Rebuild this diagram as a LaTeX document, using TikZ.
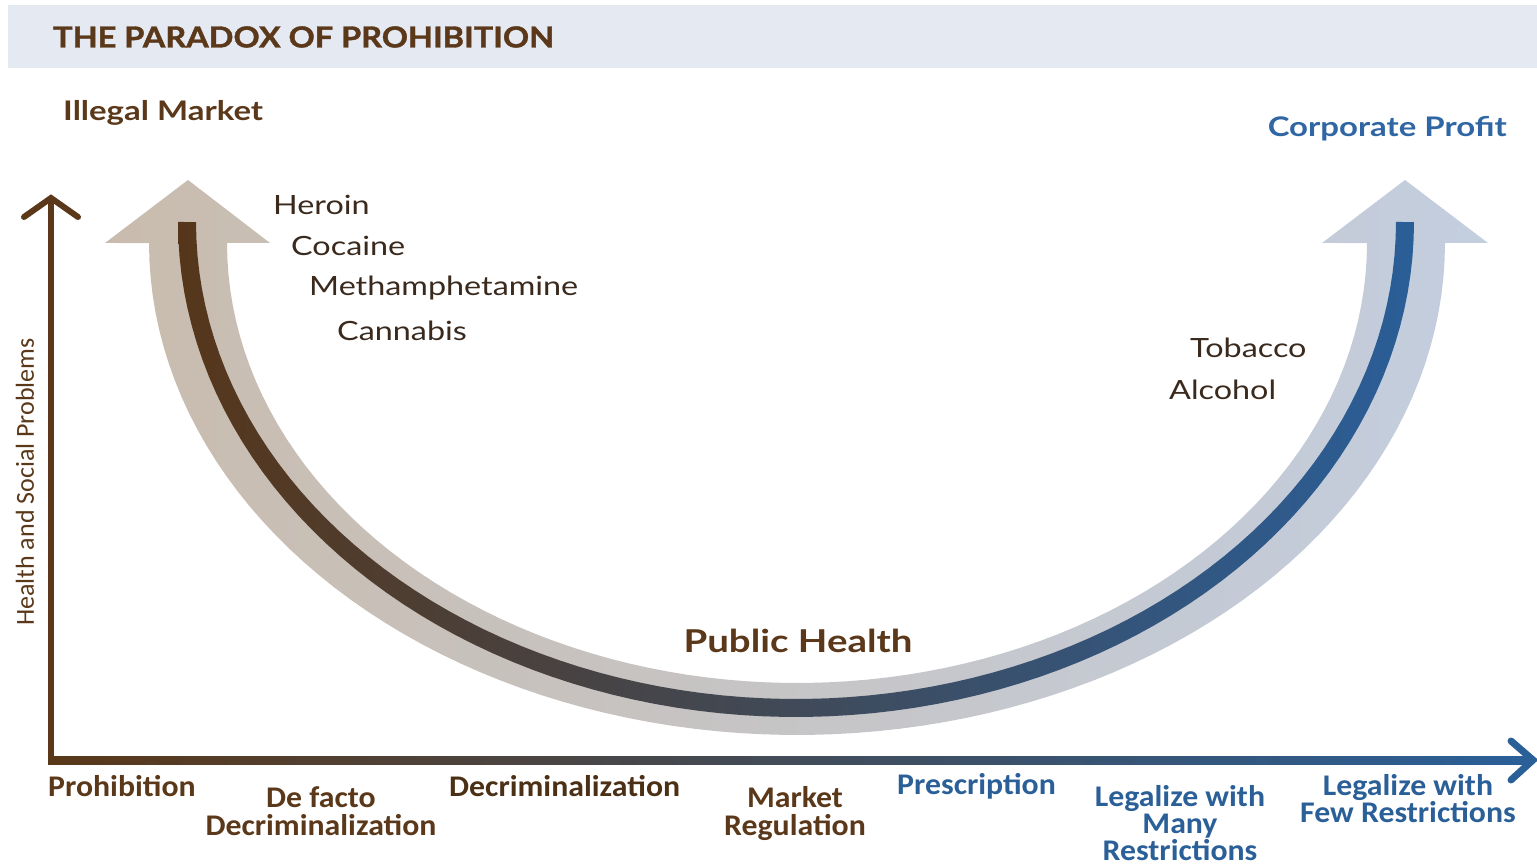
\documentclass[tikz,border=0pt]{standalone}
\usepackage{fontspec}
\setmainfont{Lato}
\newfontfamily\axisfont[FakeStretch=1.06]{Carlito}
\newfontfamily\sidefont{Carlito}
\newfontfamily\drugfont[FakeStretch=1.22]{Lato}
\newfontfamily\headfont[FakeStretch=1.22]{Lato}
\newfontfamily\titlefont[FakeStretch=1.12, FakeBold=1.3]{Lato}
\begin{document}
\begin{tikzpicture}[x=1pt,y=-1pt]
\definecolor{brownD}{HTML}{5A3819}
\definecolor{blueD}{HTML}{2A5F98}
\definecolor{grayD}{HTML}{4A494E}
\definecolor{titlebg}{HTML}{E4E9F2}
\definecolor{bandL}{HTML}{C9BCAE}
\definecolor{bandM}{HTML}{C8C8C8}
\definecolor{bandR}{HTML}{C3CEDF}
\definecolor{lineL}{HTML}{56361A}
\definecolor{lineR}{HTML}{2A5E98}
\definecolor{drugtext}{HTML}{3A2A1E}
\definecolor{corp}{HTML}{2F66A3}
\tikzset{
  heading/.style={font=\headfont\bfseries\fontsize{27}{30}\selectfont, inner sep=0pt},
  drug/.style={font=\drugfont\fontsize{26.5}{30}\selectfont, text=drugtext, inner sep=0pt, anchor=west},
  axislabel/.style={font=\axisfont\bfseries\fontsize{30}{28}\selectfont, align=center, inner sep=0pt},
}
\useasboundingbox (0,0) rectangle (1537,866);

% title band
\fill[titlebg] (8,5) rectangle (1537,68);
\node[font=\titlefont\bfseries\fontsize{29}{32}\selectfont, text=brownD, anchor=west, inner sep=0pt] (title) at (53,37) {THE PARADOX OF PROHIBITION};

% wide U-shaped arrow with its two heads
\begin{scope}
  \clip (188,180) -- (270,243) -- (227,243)
    -- plot[domain=0:180, samples=90, variable=\t] ({797-570*cos(\t)},{243+440*sin(\t)})
    -- (1322,243) -- (1405,180) -- (1488,243) -- (1445,243)
    -- plot[domain=0:180, samples=90, variable=\t] ({797+648*cos(\t)},{243+492*sin(\t)})
    -- (105,243) -- cycle;
  \shade[left color=bandL, middle color=bandM, right color=bandR] (100,170) rectangle (1495,740);
\end{scope}

% dark centre stroke of the U
\begin{scope}
  \clip plot[domain=0:180, samples=90, variable=\t] ({796-618*cos(\t)},{222+495*sin(\t)})
    -- plot[domain=0:180, samples=90, variable=\t] ({796+600*cos(\t)},{222+477*sin(\t)})
    -- cycle;
  \shade[left color=lineL, middle color=grayD, right color=lineR] (170,215) rectangle (1420,720);
\end{scope}

% axes
\coordinate (origin) at (51,760);
\coordinate (ytop) at (51,198);
\coordinate (xend) at (1533,760);
\draw[brownD, line width=6] ([yshift=3]origin) -- (ytop);
\draw[brownD, line width=6, line cap=round, line join=miter] (24,217) -- (ytop) -- (78,217);
\shade[left color=brownD, middle color=grayD, right color=blueD] (48,756) rectangle (1530,764);
\draw[blueD, line width=7, line cap=round, line join=miter] (1511,741) -- (xend) -- (1511,780);

% headings
\node[heading, text=brownD, anchor=west] (illegal) at (63,113) {Illegal Market};
\node[heading, text=corp, anchor=east] (corporate) at (1507,129) {Corporate Profit};
\node[font=\headfont\bfseries\fontsize{31.5}{34}\selectfont, text=brownD, inner sep=0pt] (health) at (798,641) {Public Health};
\node[font=\sidefont\fontsize{26}{26}\selectfont, text=brownD, rotate=90, inner sep=0pt] (yaxis) at (25,482) {Health and Social Problems};

% substances
\node[drug] (heroin) at (273,205) {Heroin};
\node[drug] (cocaine) at (291,246) {Cocaine};
\node[drug] (meth) at (309,288) {Methamphetamine};
\node[drug] (cannabis) at (337,331) {Cannabis};
\node[drug] (tobacco) at (1190,348) {Tobacco};
\node[drug] (alcohol) at (1169,390) {Alcohol};

% policy positions along the horizontal axis
\node[axislabel, text=brownD, anchor=west] (p1) at (48,786) {Prohibition};
\node[axislabel, text=brownD, anchor=north] (p2) at (321,786) {De facto\\Decriminalization};
\node[axislabel, text=brownD!85!black, anchor=west] (p3) at (449,786) {Decriminalization};
\node[axislabel, text=brownD, anchor=north] (p4) at (795,786) {Market\\Regulation};
\node[axislabel, text=blueD, anchor=west] (p5) at (897,786) {Prescription};
\node[axislabel, text=blueD, anchor=north, font=\axisfont\bfseries\fontsize{30}{27}\selectfont] (p6) at (1180,785) {Legalize with\\Many\\Restrictions};
\node[axislabel, text=blueD, anchor=north, font=\axisfont\bfseries\fontsize{30}{25}\selectfont] (p7) at (1408,774) {Legalize with\\Few Restrictions};
\end{tikzpicture}
\end{document}
